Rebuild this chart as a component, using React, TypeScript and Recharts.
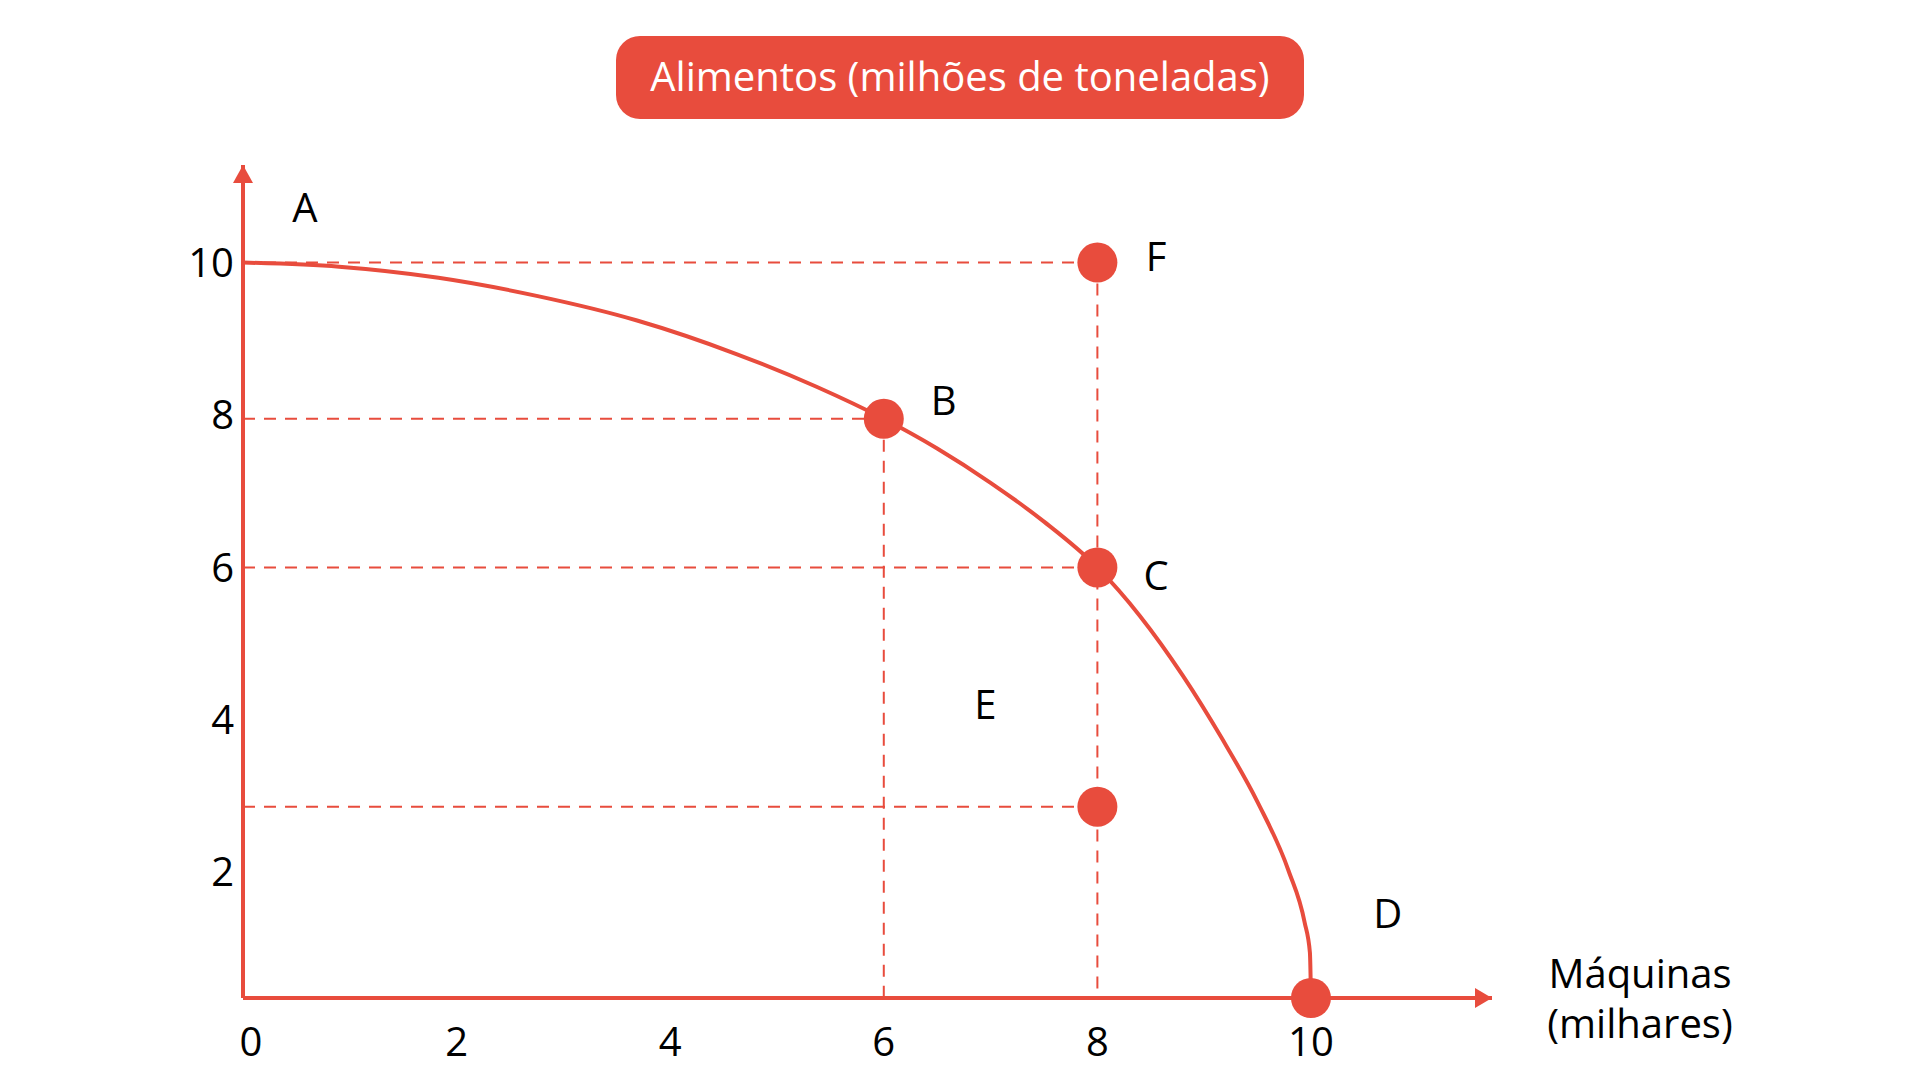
import React from "react";
import {
  ComposedChart,
  XAxis,
  YAxis,
  Line,
  Scatter,
  ReferenceLine,
} from "recharts";

const RED = "#E84C3D";
const FONT = "'Open Sans', 'Noto Sans', sans-serif";

// Production possibility frontier (Máquinas x, Alimentos y)
const curveX = [0, 0.9, 1.83, 2.76, 3.69, 4.62, 5.37, 6, 6.5, 7, 7.5, 8, 8.4, 8.8, 9.16, 9.5, 9.79, 9.94, 9.99, 10];
const curveY = [10, 9.945, 9.8, 9.56, 9.24, 8.8, 8.37, 7.95, 7.56, 7.11, 6.6, 6, 5.36, 4.58, 3.77, 2.92, 2.02, 1.345, 0.945, 0.35];

// Marked points
const pointNames = ["B", "C", "D", "F", "G"];
const pointX = [6, 8, 10, 8, 8];
const pointY = [7.95, 6, 0.35, 10, 2.86];

// Letter labels
const labelText = ["A", "B", "C", "D", "E", "F"];
const labelX = [0.58, 6.56, 8.55, 10.72, 6.95, 8.55];
const labelY = [10.73, 8.2, 5.91, 1.47, 4.21, 10.09];

const xTicks = [0, 2, 4, 6, 8, 10];
const yTicks = [2, 4, 6, 8, 10];
const xDomain: [number, number] = [0, 11.695];
const yDomain: [number, number] = [0.35, 11.28];

const title = "Alimentos (milhões de toneladas)";
const xLabelLines = ["Máquinas", "(milhares)"];

const curveData = curveX.map((x, i) => ({ x, y: curveY[i] }));
const pointData = pointNames.map((n, i) => ({ name: n, x: pointX[i], y: pointY[i] }));
const labelData = labelText.map((t, i) => ({ text: t, x: labelX[i], y: labelY[i] }));
const arrowData = [
  { x: xDomain[0], y: yDomain[1], dir: "up" },
  { x: xDomain[1], y: yDomain[0], dir: "right" },
];

const P = (n: string) => pointData.find((p) => p.name === n)!;

// dashed guide segments (from points to axes)
const guides = [
  [{ x: 0, y: P("F").y }, { x: P("F").x, y: P("F").y }],
  [{ x: 0, y: P("B").y }, { x: P("B").x, y: P("B").y }],
  [{ x: 0, y: P("C").y }, { x: P("C").x, y: P("C").y }],
  [{ x: 0, y: P("G").y }, { x: P("G").x, y: P("G").y }],
  [{ x: P("B").x, y: P("B").y }, { x: P("B").x, y: yDomain[0] }],
  [{ x: P("F").x, y: P("F").y }, { x: P("F").x, y: yDomain[0] }],
];

const Dot = (props: any) => <circle cx={props.cx} cy={props.cy} r={20} fill={RED} />;

const Letter = (props: any) => (
  <text
    x={props.cx}
    y={props.cy}
    textAnchor="middle"
    dominantBaseline="central"
    fontFamily={FONT}
    fontSize={40}
    fill="#000"
  >
    {props.payload.text}
  </text>
);

const Arrow = (props: any) => {
  const { cx, cy, payload } = props;
  if (payload.dir === "up") {
    return <polygon points={`${cx},${cy} ${cx - 10},${cy + 18} ${cx + 10},${cy + 18}`} fill={RED} />;
  }
  return <polygon points={`${cx},${cy} ${cx - 17},${cy - 10} ${cx - 17},${cy + 10}`} fill={RED} />;
};

const XTick = (props: any) => {
  const { x, y, payload } = props;
  const dx = payload.value === 0 ? 8 : 0;
  return (
    <text
      x={x + dx}
      y={y}
      dy="0.71em"
      textAnchor="middle"
      fontFamily={FONT}
      fontSize={40}
      fill="#000"
    >
      {payload.value}
    </text>
  );
};

export default function App() {
  return (
    <div style={{ position: "absolute", left: 0, top: 0, width: 1920, height: 1080, background: "#fff" }}>
      <ComposedChart
        width={1920}
        height={1080}
        margin={{ top: 165, right: 428, bottom: 0, left: 163 }}
      >
        <XAxis
          type="number"
          dataKey="x"
          domain={xDomain}
          ticks={xTicks}
          height={82}
          axisLine={{ stroke: RED, strokeWidth: 4 }}
          tickLine={false}
          tickSize={0}
          tickMargin={30}
          tick={<XTick />}
        />
        <YAxis
          type="number"
          dataKey="y"
          domain={yDomain}
          ticks={yTicks}
          width={80}
          axisLine={{ stroke: RED, strokeWidth: 4 }}
          tickLine={false}
          tickSize={0}
          tickMargin={9}
          tick={{ fill: "#000", fontSize: 40, fontFamily: FONT }}
        />
        {guides.map((seg, i) => (
          <ReferenceLine
            key={i}
            segment={seg}
            stroke={RED}
            strokeWidth={2}
            strokeDasharray="12 9"
            ifOverflow="visible"
          />
        ))}
        <Line
          data={curveData}
          dataKey="y"
          type="monotoneX"
          stroke={RED}
          strokeWidth={4}
          dot={false}
          activeDot={false}
          isAnimationActive={false}
        />
        <Scatter data={pointData} dataKey="y" shape={Dot} isAnimationActive={false} />
        <Scatter data={arrowData} dataKey="y" shape={Arrow} isAnimationActive={false} />
        <Scatter data={labelData} dataKey="y" shape={Letter} isAnimationActive={false} />
      </ComposedChart>
      <div
        style={{
          position: "absolute",
          left: 616,
          top: 36,
          width: 688,
          height: 83,
          borderRadius: 24,
          background: RED,
          color: "#fff",
          fontFamily: FONT,
          fontSize: 40,
          display: "flex",
          alignItems: "center",
          justifyContent: "center",
        }}
      >
        <span style={{ position: "relative", top: -2 }}>{title}</span>
      </div>
      <div
        style={{
          position: "absolute",
          left: 1500,
          top: 948,
          width: 280,
          textAlign: "center",
          fontFamily: FONT,
          fontSize: 40,
          lineHeight: "50px",
          color: "#000",
        }}
      >
        {xLabelLines.map((l, i) => (
          <div key={i}>{l}</div>
        ))}
      </div>
    </div>
  );
}
